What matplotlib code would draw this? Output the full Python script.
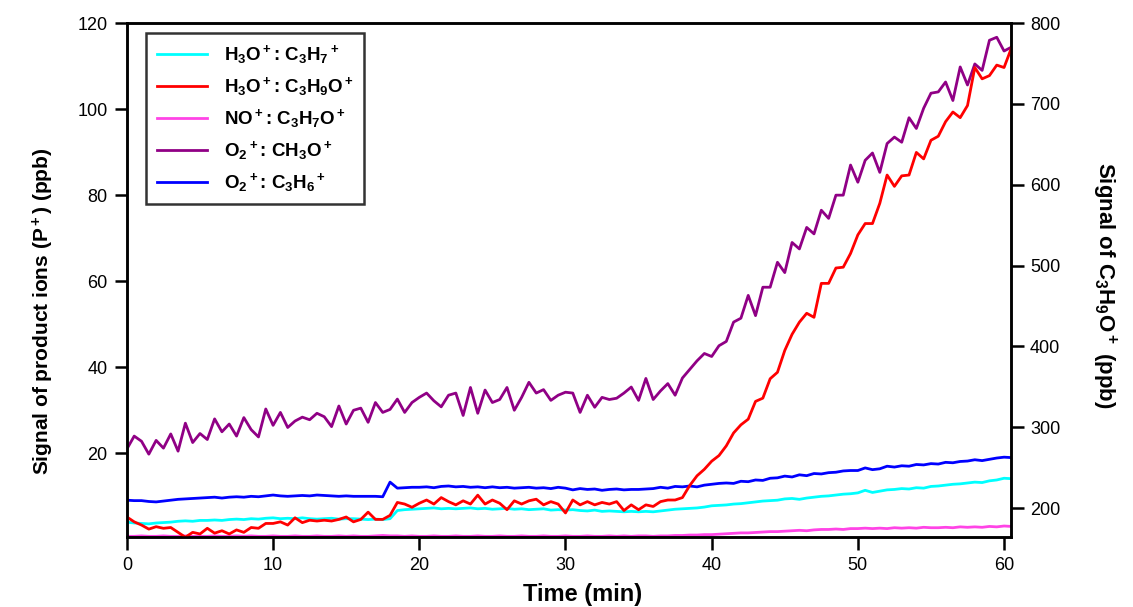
import numpy as np
import matplotlib.pyplot as plt

plt.rcParams['font.family'] = ['Liberation Sans', 'DejaVu Sans']
plt.rcParams['mathtext.fontset'] = 'custom'
plt.rcParams['mathtext.rm'] = 'Liberation Sans:bold'
plt.rcParams['mathtext.bf'] = 'Liberation Sans:bold'
plt.rcParams['mathtext.it'] = 'Liberation Sans:bold'
plt.rcParams['mathtext.default'] = 'rm'

# time axis (min), 0.5 min steps
t = np.arange(0, 60.51, 0.5)

# O2+ : CH3O+  (left axis, ppb)
purple = [21.0, 24.0, 22.8, 19.8, 23.0, 21.2, 24.5, 20.5, 27.0, 22.5,
          24.6, 23.2, 28.0, 25.0, 26.8, 24.0, 28.3, 25.5, 23.8, 30.3,
          26.5, 29.5, 26.0, 27.5, 28.4, 27.8, 29.3, 28.5, 26.2, 31.0,
          26.8, 30.0, 30.5, 27.2, 31.8, 29.5, 30.2, 32.6, 29.5, 31.8,
          33.0, 34.0, 32.2, 30.8, 33.5, 34.0, 28.8, 35.3, 29.3, 34.7,
          31.8, 32.5, 35.3, 30.0, 33.0, 36.5, 34.0, 34.8, 32.3, 33.5,
          34.2, 34.0, 29.5, 33.5, 30.7, 33.0, 32.5, 32.8, 34.0, 35.4,
          32.3, 37.4, 32.5, 34.5, 36.2, 33.5, 37.5, 39.5, 41.5, 43.2,
          42.5, 45.0, 46.0, 50.5, 51.4, 56.7, 52.0, 58.6, 58.6, 64.4,
          62.0, 69.0, 67.5, 72.5, 71.0, 76.5, 74.6, 80.0, 80.0, 87.0,
          83.0, 88.1, 89.8, 85.3, 92.0, 93.5, 92.3, 98.0, 95.5, 100.2,
          103.7, 104.0, 106.3, 102.0, 109.8, 105.6, 110.5, 109.0, 116.0, 116.7,
          113.5, 114.4]

# H3O+ : C3H9O+  (right axis, ppb)
red = [189, 183, 179, 174, 177, 175, 176, 170, 164, 170,
       168, 175, 169, 172, 168, 173, 170, 176, 175, 181,
       181, 183, 179, 188, 182, 185, 184, 185, 184, 186,
       189, 183, 186, 195, 186, 186, 191, 207, 205, 201,
       206, 210, 205, 213, 208, 204, 209, 205, 216, 205,
       210, 206, 198, 209, 205, 209, 211, 204, 208, 205,
       194, 210, 204, 208, 204, 207, 205, 208, 197, 204,
       198, 204, 202, 208, 210, 210, 213, 228, 240, 248,
       258, 265, 277, 293, 303, 310, 332, 336, 360, 368,
       395, 415, 430, 441, 436, 478, 478, 497, 498, 515,
       538, 552, 552, 577, 612, 598, 611, 612, 640, 632,
       655, 660, 678, 690, 683, 698, 745, 731, 735, 748,
       745, 769]

# O2+ : C3H6+
blue = [9.1, 9.0, 9.0, 8.8, 8.7, 8.9, 9.1, 9.3, 9.4, 9.5,
        9.6, 9.7, 9.8, 9.6, 9.8, 9.9, 9.8, 10.0, 9.9, 10.1,
        10.3, 10.1, 10.0, 10.1, 10.2, 10.1, 10.3, 10.2, 10.1, 10.0,
        10.1, 10.0, 10.0, 10.0, 10.0, 9.9, 13.3, 11.9, 12.0, 12.1,
        12.1, 12.2, 12.0, 12.3, 12.4, 12.2, 12.3, 12.1, 12.2, 12.0,
        12.2, 12.0, 12.1, 11.9, 12.0, 12.1, 11.9, 12.0, 11.8, 12.1,
        11.9, 11.5, 11.8, 11.6, 11.7, 11.4, 11.6, 11.7, 11.5, 11.6,
        11.6, 11.7, 11.8, 12.1, 11.9, 12.3, 12.2, 12.4, 12.2, 12.6,
        12.8, 13.0, 13.1, 13.0, 13.5, 13.4, 13.8, 13.7, 14.2, 14.3,
        14.7, 14.5, 15.0, 14.8, 15.3, 15.2, 15.5, 15.6, 15.9, 16.0,
        16.0, 16.6, 16.2, 16.4, 17.0, 16.8, 17.1, 17.0, 17.4, 17.3,
        17.6, 17.5, 17.9, 17.8, 18.1, 18.2, 18.5, 18.3, 18.6, 18.9,
        19.1, 19.0]

# H3O+ : C3H7+
cyan = [4.0, 3.8, 3.7, 3.6, 3.8, 3.9, 4.0, 4.2, 4.3, 4.2,
        4.4, 4.4, 4.5, 4.4, 4.6, 4.7, 4.6, 4.8, 4.7, 4.9,
        5.0, 4.8, 4.9, 4.8, 5.0, 4.8, 4.7, 4.8, 4.9, 4.7,
        4.8, 4.8, 4.7, 4.6, 4.7, 4.6, 4.8, 6.7, 6.9, 7.0,
        7.1, 7.2, 7.3, 7.1, 7.2, 7.1, 7.2, 7.3, 7.1, 7.2,
        7.0, 7.1, 7.2, 7.0, 7.1, 6.9, 7.0, 7.1, 6.8, 6.9,
        6.8, 6.9, 6.7, 6.6, 6.8, 6.5, 6.6, 6.5, 6.4, 6.5,
        6.4, 6.5, 6.4, 6.6, 6.8, 7.0, 7.1, 7.2, 7.3, 7.5,
        7.8, 7.9, 8.0, 8.2, 8.3, 8.5, 8.7, 8.9, 9.0, 9.1,
        9.4, 9.5, 9.3, 9.6, 9.8, 10.0, 10.1, 10.3, 10.5, 10.6,
        10.8, 11.4, 10.9, 11.2, 11.5, 11.6, 11.8, 11.7, 12.0, 11.9,
        12.3, 12.4, 12.6, 12.8, 12.9, 13.1, 13.3, 13.2, 13.6, 13.8,
        14.2, 14.1]

# NO+ : C3H7O+
pink = [0.7, 0.7, 0.8, 0.7, 0.7, 0.8, 0.7, 0.7, 0.8, 0.7,
        0.7, 0.7, 0.8, 0.7, 0.7, 0.8, 0.7, 0.8, 0.7, 0.7,
        0.8, 0.7, 0.7, 0.8, 0.7, 0.7, 0.8, 0.7, 0.7, 0.8,
        0.7, 0.8, 0.7, 0.7, 0.8, 0.9, 0.8, 0.8, 0.7, 0.8,
        0.7, 0.7, 0.8, 0.7, 0.7, 0.8, 0.7, 0.7, 0.8, 0.7,
        0.7, 0.8, 0.7, 0.7, 0.8, 0.7, 0.7, 0.8, 0.7, 0.7,
        0.8, 0.7, 0.7, 0.8, 0.7, 0.7, 0.8, 0.7, 0.8, 0.7,
        0.8, 0.8, 0.7, 0.8, 0.8, 0.9, 0.9, 1.0, 1.0, 1.1,
        1.1, 1.2, 1.3, 1.4, 1.5, 1.5, 1.6, 1.7, 1.8, 1.8,
        1.9, 2.0, 2.1, 2.0, 2.2, 2.3, 2.3, 2.4, 2.3, 2.5,
        2.5, 2.6, 2.5, 2.6, 2.5, 2.7, 2.6, 2.7, 2.6, 2.8,
        2.7, 2.7, 2.8, 2.7, 2.9, 2.8, 2.9, 2.8, 3.0, 2.9,
        3.1, 3.0]

fig = plt.figure(figsize=(11.33, 6.07), dpi=100)
ax = fig.add_axes([0.112, 0.115, 0.78, 0.847])
ax2 = ax.twinx()

lw = 2.0
l1, = ax.plot(t, cyan, color='#00FFFF', lw=lw, label=r'H$_3$O$^+$: C$_3$H$_7$$^+$')
l3, = ax.plot(t, pink, color='#FF44E6', lw=lw, label=r'NO$^+$: C$_3$H$_7$O$^+$')
l5, = ax.plot(t, blue, color='#0000FF', lw=lw, label=r'O$_2$$^+$: C$_3$H$_6$$^+$')
l4, = ax.plot(t, purple, color='#900085', lw=lw, label=r'O$_2$$^+$: CH$_3$O$^+$')
l2, = ax2.plot(t, red, color='#FF0000', lw=lw, label=r'H$_3$O$^+$: C$_3$H$_9$O$^+$')

ax.set_xlim(0, 60.45)
ax.set_ylim(0.5, 120)
ax.set_yticks([20, 40, 60, 80, 100, 120])
ax.set_xticks([0, 10, 20, 30, 40, 50, 60])
ax2.set_ylim(164, 800)
ax2.set_yticks([200, 300, 400, 500, 600, 700, 800])

for a in (ax, ax2):
    for s in a.spines.values():
        s.set_linewidth(1.8)
    a.tick_params(direction='out', length=9, width=1.8, labelsize=13, pad=5)

ax.set_xlabel('Time (min)', fontsize=17, fontweight='bold', labelpad=4)
ax.xaxis.set_label_coords(0.516, -0.09)
ax.set_ylabel(r'Signal of product ions (P$^+$) (ppb)', fontsize=15, fontweight='bold')
ax.yaxis.set_label_coords(-0.08, 0.44)
ax2.set_ylabel(r'Signal of C$_3$H$_9$O$^+$ (ppb)', fontsize=16, fontweight='bold',
               rotation=270)
ax2.yaxis.set_label_coords(1.122, 0.49)

leg = ax2.legend(handles=[l1, l2, l3, l4, l5], loc='upper left',
                 bbox_to_anchor=(0.022, 0.981), fontsize=13.5, frameon=True,
                 fancybox=False, handlelength=2.7, borderpad=0.55, labelspacing=0.48,
                 handletextpad=0.9, borderaxespad=0)
leg.get_frame().set_edgecolor('black')
leg.get_frame().set_linewidth(1.8)
for txt in leg.get_texts():
    txt.set_fontweight('bold')

fig.savefig('out.png', dpi=100)
